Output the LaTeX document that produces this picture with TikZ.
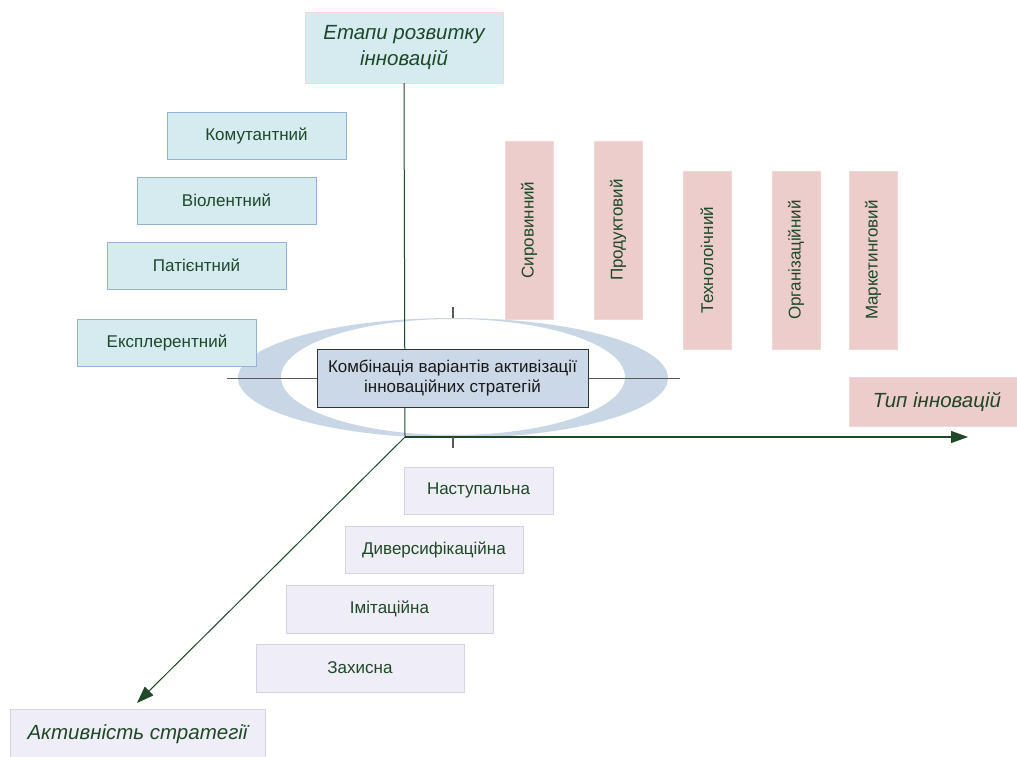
\documentclass[tikz,border=0pt]{standalone}
\usepackage{fontspec}
\setmainfont{Liberation Sans}
\usetikzlibrary{arrows.meta}
\definecolor{tgreen}{RGB}{30,72,40}
\definecolor{lblue}{RGB}{213,235,240}
\definecolor{lblueb}{RGB}{149,179,215}
\definecolor{pinkf}{RGB}{237,205,203}
\definecolor{pinkb}{RGB}{242,215,214}
\definecolor{lavf}{RGB}{239,237,245}
\definecolor{lavb}{RGB}{216,210,230}
\definecolor{ringc}{RGB}{200,214,230}
\definecolor{cboxf}{RGB}{202,216,232}
\definecolor{axgrey}{RGB}{90,90,90}
\tikzset{
 box/.style={rectangle, inner sep=0pt, outer sep=0pt, line width=1pt, font=\fontsize{17}{20}\selectfont, text=tgreen},
 lbox/.style={box, draw=lblueb, fill=lblue, minimum width=179pt, minimum height=47pt},
 pbox/.style={box, draw=pinkb, fill=pinkf, rotate=90, minimum width=178pt, minimum height=48pt},
 vbox/.style={box, draw=lavb, fill=lavf, minimum height=47pt},
 titlebox/.style={box, font=\fontsize{20.5}{26}\selectfont\itshape, align=center},
 axis/.style={draw=tgreen, line width=1pt},
 arr/.style={axis, line width=1.2pt, -{Triangle[length=17pt,width=12pt]}},
 tick/.style={draw=axgrey, line width=1.3pt},
}
\begin{document}
\begin{tikzpicture}[x=1pt,y=-1pt]
\useasboundingbox (0,0) rectangle (1017,756);
% ring
\fill[ringc, even odd rule] (453,378) ellipse [x radius=215pt, y radius=60pt]
  (453,377) ellipse [x radius=172pt, y radius=58pt];
% title
\node[titlebox, draw=pinkb, fill=lblue, minimum width=198pt, minimum height=71pt] (title) at (404,47.5) {Етапи розвитку\\інновацій};
% left boxes
\node[lbox] (kom) at (256.5,135.5) {Комутантний};
\node[lbox] (vio) at (226.5,200.5) {Віолентний};
\node[lbox] (pat) at (196.5,265.5) {Патієнтний};
\node[lbox] (eks) at (167,342.5) {Експлерентний};
% pink boxes
\node[pbox] (syr) at (529,230) {Сировинний};
\node[pbox] (prod) at (618,230) {Продуктовий};
\node[pbox] (tech) at (707,260) {Технолоічний};
\node[pbox] (org) at (796,260) {Організаційний};
\node[pbox] (mark) at (873,260) {Маркетинговий};
\node[titlebox, draw=pinkb, fill=pinkf, minimum width=176pt, minimum height=49pt] (tip) at (937,401.5) {Тип інновацій};
% bottom boxes
\node[vbox, minimum width=149pt] (nast) at (478.5,490.5) {Наступальна};
\node[vbox, minimum width=178pt] (dyv) at (434,549.5) {Диверсифікаційна};
\node[vbox, minimum width=207pt, minimum height=48pt] (imit) at (389.5,609) {Імітаційна};
\node[vbox, minimum width=208pt, minimum height=48pt] (zakh) at (360,668) {Захисна};
\node[titlebox, draw=lavb, fill=lavf, minimum width=255pt, minimum height=50pt] (akt) at (137.5,734) {Активність стратегії};
% axes
\coordinate (O) at (405,437);
\coordinate (hl) at (227,378);
\coordinate (hr) at (680,378);
\coordinate (xend) at (968,437);
\coordinate (dend) at (137,703);
\coordinate (t1a) at (453,307);
\coordinate (t1b) at (453,318);
\coordinate (t2a) at (453,437);
\coordinate (t2b) at (453,448);
\draw[draw=axgrey, line width=1pt] (hl) -- (hr);
\draw[axis] (title.south) -- (O);
\draw[arr] (O) -- (xend);
\draw[arr, line width=1pt] (O) -- (dend);
\draw[tick] (t1a) -- (t1b);
\draw[tick] (t2a) -- (t2b);
% center box
\node[box, draw=black!80, fill=cboxf, text=black!90, align=center, minimum width=271pt, minimum height=58pt] (comb) at (452.5,378) {Комбінація варіантів активізації\\інноваційних стратегій};
\end{tikzpicture}
\end{document}
